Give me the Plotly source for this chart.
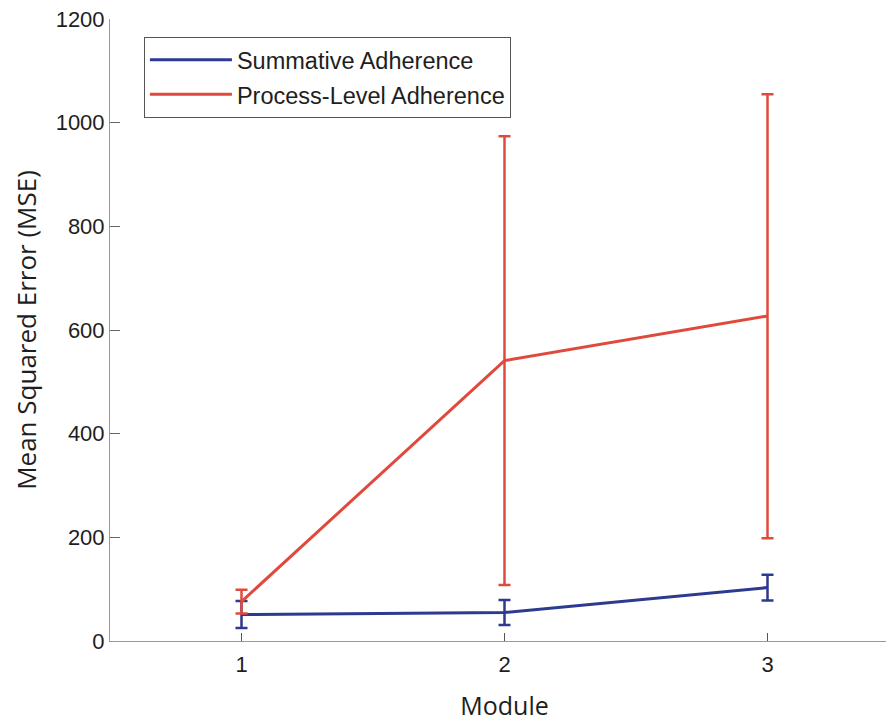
import plotly.graph_objects as go

modules = [1, 2, 3]
summative_mean = [51, 55, 103]
summative_err = [26, 24, 25]
process_mean = [76, 541, 627]
process_err_plus = [23, 433, 428]
process_err_minus = [23, 433, 429]
y_ticks = [0, 200, 400, 600, 800, 1000, 1200]

blue = "#2c3a8f"
red = "#df4a3c"
txt = "#1e1e1e"
sans = "Liberation Sans, Arial, sans-serif"
title_font = "Open Sans, Noto Sans, sans-serif"

fig = go.Figure()
fig.add_trace(go.Scatter(
    x=modules, y=summative_mean, mode="lines", name="Summative Adherence",
    legendgroup="a",
    line=dict(color=blue, width=3),
    error_y=dict(type="data", array=summative_err, color=blue, thickness=2.5, width=6),
))
fig.add_trace(go.Scatter(
    x=modules, y=process_mean, mode="lines", name="Process-Level Adherence",
    legendgroup="b",
    line=dict(color=red, width=3),
    error_y=dict(type="data", array=process_err_plus, arrayminus=process_err_minus,
                 color=red, thickness=2.5, width=6),
))

fig.update_layout(
    width=894, height=721,
    margin=dict(l=102, r=3, t=11, b=88, autoexpand=False),
    paper_bgcolor="white", plot_bgcolor="white",
    font=dict(family=sans, color=txt),
    showlegend=True,
    legend=dict(
        x=0.043, y=0.971, xanchor="left", yanchor="top",
        bgcolor="white", bordercolor="#555555", borderwidth=1,
        font=dict(size=23.5, family=sans, color=txt),
        tracegroupgap=1, itemwidth=82,
    ),
    xaxis=dict(
        range=[0.5, 3.5], tickvals=modules, ticktext=["1", "2", "3"],
        automargin=False,
        showgrid=False, zeroline=False, showline=True, linecolor="#999999", linewidth=1,
        ticks="inside", ticklen=8, tickcolor="#555555",
        ticklabelstandoff=4,
        tickfont=dict(size=22, family=sans, color=txt),
        title=dict(text="Module", font=dict(size=25, family=title_font, color=txt),
                   standoff=21),
    ),
    yaxis=dict(
        range=[0, 1200], tickvals=y_ticks,
        automargin=False,
        showgrid=False, zeroline=False, showline=True, linecolor="#999999", linewidth=1,
        ticks="inside", ticklen=10, tickcolor="#666666",
        ticklabeloverflow="allow",
        tickfont=dict(size=22, family=sans, color=txt),
        title=dict(text="Mean Squared Error (MSE)",
                   font=dict(size=26, family=title_font, color=txt),
                   standoff=11),
    ),
)

fig.write_html("out.html")
